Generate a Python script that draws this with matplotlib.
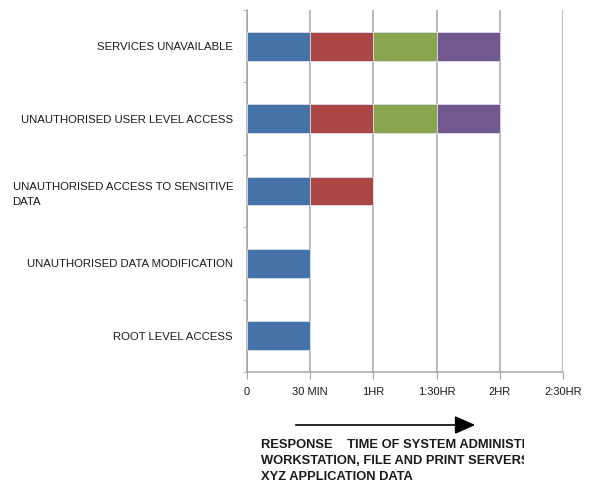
import matplotlib
matplotlib.use("Agg")
import matplotlib.pyplot as plt
from matplotlib.patches import FancyArrowPatch
from matplotlib.transforms import Bbox, TransformedBbox
import numpy as np

plt.rcParams['font.family'] = ['Liberation Sans', 'DejaVu Sans']

# categorias de abajo hacia arriba
categorias = ["ROOT LEVEL ACCESS",
              "UNAUTHORISED DATA MODIFICATION",
              "UNAUTHORISED ACCESS TO SENSITIVE\nDATA",
              "UNAUTHORISED USER LEVEL ACCESS",
              "SERVICES UNAVAILABLE"]
# tramos de respuesta (horas), uno por serie
serie1 = [0.5, 0.5, 0.5, 0.5, 0.5]
serie2 = [0.0, 0.0, 0.5, 0.5, 0.5]
serie3 = [0.0, 0.0, 0.0, 0.5, 0.5]
serie4 = [0.0, 0.0, 0.0, 0.5, 0.5]
colores = ["#4572A7", "#AA4643", "#89A54E", "#71588F"]

marcas_x = [0, 0.5, 1.0, 1.5, 2.0, 2.5]
etiquetas_x = ["0", "30 MIN", "1HR", "1:30HR", "2HR", "2:30HR"]

fig = plt.figure(figsize=(5.9, 4.83), dpi=100)
ax = fig.add_axes([247/590, 1-372/483, 316/590, 362/483])

y = np.arange(len(categorias))
izq = np.zeros(len(categorias))
for s, c in zip([serie1, serie2, serie3, serie4], colores):
    s = np.array(s)
    ax.barh(y, s, left=izq, height=0.4, color=c, edgecolor="#D8DDE8", linewidth=0.6, zorder=3)
    izq += s

ax.set_xlim(0, 2.5)
ax.set_ylim(-0.5, 4.5)
ax.set_xticks(marcas_x)
ax.set_xticklabels(etiquetas_x)
ax.set_yticks(y)
ax.set_yticklabels(categorias, multialignment="left", linespacing=1.6)
ax.set_yticks(np.arange(-0.5, 4.6, 1.0), minor=True)
ax.xaxis.grid(True, color="#A6A6A6", linewidth=1.1, zorder=0)
ax.tick_params(axis="x", length=5, color="#A6A6A6", pad=6, labelsize=8, labelcolor="#1a1a1a")
ax.tick_params(axis="y", which="major", length=0, pad=10, labelsize=8.2, labelcolor="#1a1a1a")
ax.tick_params(axis="y", which="minor", length=3, color="#A6A6A6")
for lado in ["top", "right"]:
    ax.spines[lado].set_visible(False)
for lado in ["left", "bottom"]:
    ax.spines[lado].set_color("#A6A6A6")
    ax.spines[lado].set_linewidth(1.1)

# flecha del tiempo de respuesta
fig.patches.append(FancyArrowPatch(
    (293/590, 1-425/483), (478/590, 1-425/483), transform=fig.transFigure,
    arrowstyle="-|>,head_length=0.9,head_width=0.4", mutation_scale=14,
    color="black", linewidth=1.2))

caja = TransformedBbox(Bbox([[0, 0], [524/590, 1]]), fig.transFigure)
lineas = ["RESPONSE    TIME OF SYSTEM ADMINISTRATOR",
          "WORKSTATION, FILE AND PRINT SERVERS",
          "XYZ APPLICATION DATA"]
for i, t in enumerate(lineas):
    txt = fig.text(261/590, 1-(445+16*i)/483, t, fontsize=9.3, fontweight="bold",
                   color="#1a1a1a", va="center", ha="left")
    txt.set_clip_on(True)
    txt.set_clip_box(caja)

fig.savefig("out.png", dpi=100)
